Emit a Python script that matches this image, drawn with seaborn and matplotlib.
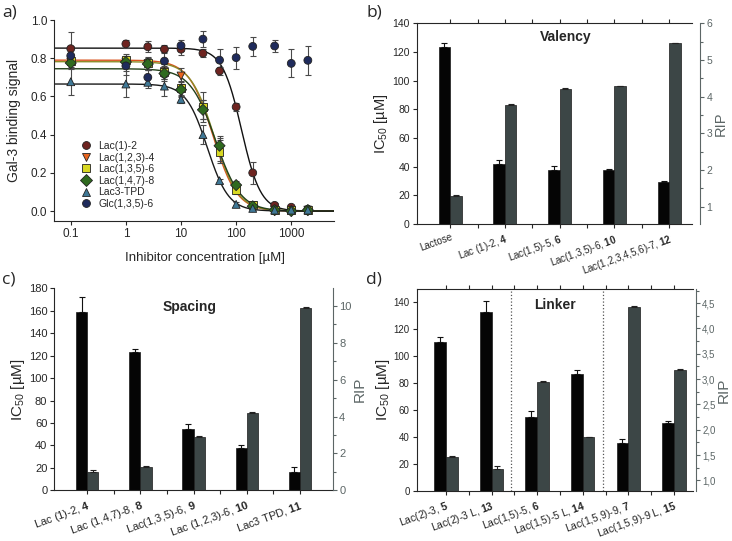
import numpy as np
import pandas as pd
import matplotlib
matplotlib.use("Agg")
import matplotlib.pyplot as plt
import seaborn as sns
from matplotlib.ticker import FixedLocator, MultipleLocator, FuncFormatter, NullLocator

sns.set_theme(style="ticks")
plt.rcParams["font.family"] = ["Liberation Sans", "DejaVu Sans"]
plt.rcParams["mathtext.fontset"] = "custom"
plt.rcParams["mathtext.rm"] = "Liberation Sans"
plt.rcParams["mathtext.bf"] = "Liberation Sans:bold"
plt.rcParams["axes.linewidth"] = 0.8

# ---------------- Panel a data ----------------
conc = [0.1, 1, 2.5, 5, 10, 25, 50, 100, 200, 500, 1000, 2000]
a_names = ["Lac(1)-2", "Lac(1,2,3)-4", "Lac(1,3,5)-6", "Lac(1,4,7)-8", "Lac3-TPD", "Glc(1,3,5)-6"]
sig_lac1_2 = [0.85, 0.875, 0.86, 0.847, 0.847, 0.826, 0.733, 0.545, 0.20, 0.03, 0.02, 0.01]
sig_lac123_4 = [0.78, 0.78, 0.77, 0.73, 0.707, 0.53, 0.32, 0.12, 0.03, 0.005, 0.0, 0.005]
sig_lac135_6 = [0.785, 0.79, 0.776, 0.73, 0.642, 0.545, 0.31, 0.11, 0.031, 0.005, 0.005, 0.005]
sig_lac147_8 = [0.775, 0.78, 0.77, 0.72, 0.635, 0.53, 0.342, 0.136, 0.025, 0.005, 0.0, 0.005]
sig_lac3tpd = [0.677, 0.665, 0.674, 0.654, 0.585, 0.40, 0.159, 0.035, 0.014, 0.005, 0.005, 0.005]
sig_glc135_6 = [0.813, 0.76, 0.70, 0.785, 0.866, 0.90, 0.79, 0.803, 0.862, 0.864, 0.773, 0.789]
err_lac1_2 = [0.085, 0.02, 0.03, 0.02, 0.03, 0.02, 0.02, 0.02, 0.057, 0.01, 0.01, 0.01]
err_lac123_4 = [0.03, 0.03, 0.03, 0.04, 0.04, 0.05, 0.06, 0.02, 0.01, 0.005, 0.005, 0.005]
err_lac135_6 = [0.03, 0.03, 0.03, 0.04, 0.04, 0.08, 0.06, 0.02, 0.01, 0.005, 0.005, 0.005]
err_lac147_8 = [0.03, 0.03, 0.03, 0.04, 0.04, 0.05, 0.05, 0.02, 0.01, 0.005, 0.005, 0.005]
err_lac3tpd = [0.07, 0.07, 0.03, 0.05, 0.02, 0.05, 0.01, 0.01, 0.01, 0.005, 0.005, 0.005]
err_glc135_6 = [0.05, 0.05, 0.04, 0.05, 0.03, 0.04, 0.058, 0.057, 0.048, 0.033, 0.073, 0.076]
a_signals = [sig_lac1_2, sig_lac123_4, sig_lac135_6, sig_lac147_8, sig_lac3tpd, sig_glc135_6]
a_errors = [err_lac1_2, err_lac123_4, err_lac135_6, err_lac147_8, err_lac3tpd, err_glc135_6]
a_markers = ["o", "v", "s", "D", "^", "o"]
a_colors = ["#6e2420", "#e8641e", "#d8d822", "#2f6a1f", "#3f7896", "#1f2b5c"]

# logistic fit parameters (top, IC50, Hill) for the fitted curves
fit_names = ["Lac(1)-2", "Lac(1,2,3)-4", "Lac(1,3,5)-6", "Lac(1,4,7)-8", "Lac3-TPD"]
fit_top = [0.853, 0.79, 0.782, 0.745, 0.665]
fit_ic50 = [125, 38, 40, 42, 30]
fit_hill = [2.5, 2.0, 2.0, 1.9, 2.25]
fit_colors = ["#111111", "#d9531e", "#8c8c28", "#23401a", "#1a1a1a"]

# ---------------- Panel b data ----------------
b_names = ["Lactose", "Lac (1)-2,", "Lac(1,5)-5,", "Lac(1,3,5)-6,", "Lac(1,2,3,4,5,6)-7,"]
b_nums = ["", "4", "6", "10", "12"]
b_ic50 = [123.5, 42.1, 37.9, 37.4, 29.5]
b_ic50_err = [2.5, 2.8, 2.5, 0.6, 0.4]
b_rip = [1.29, 3.77, 4.22, 4.28, 5.45]
b_rip_err = [0.02, 0.02, 0.02, 0.02, 0.02]

# ---------------- Panel c data ----------------
c_names = ["Lac (1)-2,", "Lac (1,4,7)-8,", "Lac(1,3,5)-6,", "Lac (1,2,3)-6,", "Lac3 TPD,"]
c_nums = ["4", "8", "9", "10", "11"]
c_ic50 = [158.9, 123.3, 54.4, 37.4, 16.0]
c_ic50_err = [13.0, 2.7, 4.5, 3.0, 4.5]
c_rip = [0.99, 1.27, 2.91, 4.21, 9.89]
c_rip_err = [0.1, 0.03, 0.05, 0.03, 0.03]

# ---------------- Panel d data ----------------
d_names = ["Lac(2)-3,", "Lac(2)-3 L,", "Lac(1,5)-5,", "Lac(1,5)-5 L,", "Lac(1,5,9)-9,", "Lac(1,5,9)-9 L,"]
d_nums = ["5", "13", "6", "14", "7", "15"]
d_ic50 = [110.7, 132.7, 54.7, 87.1, 35.9, 50.2]
d_ic50_err = [4.0, 8.2, 4.5, 3.0, 2.5, 1.5]
d_rip = [1.46, 1.23, 2.94, 1.85, 4.43, 3.19]
d_rip_err = [0.03, 0.05, 0.03, 0.01, 0.01, 0.01]
d_separators = [1.43, 3.44]

BLACK = "#050505"
GRAY = "#3c4646"
AXGRAY = "#5c6666"

fig = plt.figure(figsize=(7.32, 5.41), dpi=100)

# ====================== Panel a ======================
axa = fig.add_axes([0.074, 0.5915, 0.3825, 0.3715])
xx = np.geomspace(0.05, 6000, 400)
curve_rows = []
for n, t, ic, h in zip(fit_names, fit_top, fit_ic50, fit_hill):
    for xv in xx:
        curve_rows.append({"conc": xv, "signal": t / (1 + (xv / ic) ** h), "series": n})
curves = pd.DataFrame(curve_rows)
sns.lineplot(data=curves, x="conc", y="signal", hue="series", hue_order=fit_names,
             palette=dict(zip(fit_names, fit_colors)), linewidth=1.0, legend=False,
             ax=axa, zorder=2)

pts = pd.DataFrame({
    "conc": conc * len(a_names),
    "signal": sum(a_signals, []),
    "err": sum(a_errors, []),
    "series": [n for n in a_names for _ in conc],
})
for n, s, e in zip(a_names, a_signals, a_errors):
    axa.errorbar(conc, s, yerr=e, fmt="none", ecolor="#4a4a4a", elinewidth=0.8,
                 capsize=2.5, capthick=0.8, zorder=3)
sns.scatterplot(data=pts, x="conc", y="signal", hue="series", style="series",
                hue_order=a_names, style_order=a_names,
                palette=dict(zip(a_names, a_colors)),
                markers=dict(zip(a_names, a_markers)), s=32, edgecolor="#222222",
                linewidth=0.6, ax=axa, zorder=4)
axa.set_xscale("log")
axa.set_xlim(0.05, 6000)
axa.set_ylim(-0.052, 1.0)
axa.set_xticks([0.1, 1, 10, 100, 1000])
axa.set_xticklabels(["0.1", "1", "10", "100", "1000"])
axa.xaxis.set_minor_locator(NullLocator())
axa.set_yticks([0.0, 0.2, 0.4, 0.6, 0.8, 1.0])
axa.set_yticklabels(["0.0", "0.2", "0.4", "0.6", "0.8", "1.0"])
axa.tick_params(labelsize=8.5, length=3, width=0.8, pad=2)
axa.set_xlabel("Inhibitor concentration [µM]", fontsize=9.5)
axa.xaxis.set_label_coords(0.54, -0.155)
axa.set_ylabel("Gal-3 binding signal", fontsize=10, labelpad=7)
sns.despine(ax=axa)
handles, labels = axa.get_legend_handles_labels()
axa.legend(handles, labels, loc="lower left", bbox_to_anchor=(0.06, 0.04), frameon=False,
           fontsize=7.5, handletextpad=0.2, labelspacing=0.15, borderaxespad=0, title=None)


def bar_panel(pos, names, nums, ic50, ic50_err, rip, rip_err, ylim_l, ylim_r, xlim,
              width, title, title_xy, top_spine, right_offset, rip_major, rip_minor,
              left_major, xt_size, yt_size, lab_size, comma=False):
    ax = fig.add_axes(pos)
    ax2 = ax.twinx()
    n = len(names)
    df = pd.DataFrame({
        "compound": names * 2,
        "measure": ["IC50"] * n + ["RIP"] * n,
        "value": list(ic50) + list(rip),
    })
    pal = {"IC50": BLACK, "RIP": GRAY}
    sns.barplot(data=df[df.measure == "IC50"], x="compound", y="value", hue="measure",
                hue_order=["IC50", "RIP"], order=names, palette=pal, dodge=True,
                width=width, errorbar=None, saturation=1, legend=False,
                edgecolor="#1a1a1a", linewidth=0.5, ax=ax)
    sns.barplot(data=df[df.measure == "RIP"], x="compound", y="value", hue="measure",
                hue_order=["IC50", "RIP"], order=names, palette=pal, dodge=True,
                width=width, errorbar=None, saturation=1, legend=False,
                edgecolor="#1a1a1a", linewidth=0.5, ax=ax2)
    # error bars (upper only) on the drawn bars
    for a_, errs, col in ((ax, ic50_err, "#111111"), (ax2, rip_err, "#222222")):
        cont = [c for c in a_.containers if len(c) > 0][0]
        xc = [p.get_x() + p.get_width() / 2 for p in cont.patches]
        hc = [p.get_height() for p in cont.patches]
        a_.errorbar(xc, hc, yerr=[np.zeros(len(errs)), errs], fmt="none", ecolor=col,
                    elinewidth=0.8, capsize=2.5, capthick=0.8)
    ax.set_xlim(*xlim)
    ax.set_ylim(*ylim_l)
    ax2.set_ylim(*ylim_r)
    ax.set_xticks(range(n))
    ax.set_xticklabels([f"{a} $\\mathbf{{{b}}}$" if b else a for a, b in zip(names, nums)],
                       rotation=20, ha="right", rotation_mode="anchor", fontsize=xt_size)
    ax.xaxis.set_minor_locator(FixedLocator(np.arange(n - 1) + 0.5))
    ax.yaxis.set_major_locator(MultipleLocator(left_major))
    ax.tick_params(axis="y", labelsize=yt_size, length=3, width=0.8, pad=2)
    ax.tick_params(axis="x", which="both", length=3, width=0.8, pad=3, top=top_spine)
    ax.set_xlabel("")
    ax.set_ylabel("IC$_{50}$ [µM]", fontsize=lab_size, labelpad=1.5)
    ax.spines["right"].set_visible(False)
    ax.spines["top"].set_visible(top_spine)
    for s in ("top", "left", "bottom"):
        ax2.spines[s].set_visible(False)
    ax2.spines["right"].set_color(AXGRAY)
    ax2.spines["right"].set_position(("outward", right_offset))
    ax2.yaxis.set_major_locator(MultipleLocator(rip_major))
    ax2.yaxis.set_minor_locator(MultipleLocator(rip_minor))
    ax2.tick_params(axis="y", which="both", colors=AXGRAY, labelcolor=AXGRAY,
                    labelsize=yt_size, width=0.8, pad=1.5)
    ax2.tick_params(axis="y", which="major", length=3)
    ax2.tick_params(axis="y", which="minor", length=2)
    if comma:
        ax2.yaxis.set_major_formatter(FuncFormatter(lambda v, p: f"{v:.1f}".replace(".", ",")))
    else:
        ax2.yaxis.set_major_formatter(FuncFormatter(lambda v, p: f"{v:.0f}"))
    ax2.set_ylabel("RIP", fontsize=lab_size, color=AXGRAY, labelpad=1)
    ax2.set_xlabel("")
    ax.text(title_xy[0], title_xy[1], title, transform=ax.transAxes, ha="center",
            va="center", fontsize=10, fontweight="bold")
    return ax, ax2


axb, axb2 = bar_panel([0.5693, 0.586, 0.3757, 0.371], b_names, b_nums, b_ic50, b_ic50_err,
                      b_rip, b_rip_err, (0, 140), (0.53, 6), (-0.61, 4.41), 0.42,
                      "Valency", (0.54, 0.93), True, 6, 1, 0.5, 20, 7, 7.5, 10.5)
axc, axc2 = bar_panel([0.0742, 0.0937, 0.3807, 0.3734], c_names, c_nums, c_ic50, c_ic50_err,
                      c_rip, c_rip_err, (0, 180), (0, 10.96), (-0.62, 4.62), 0.42,
                      "Spacing", (0.487, 0.906), False, 0, 2, 1, 20, 8, 8, 11)
axd, axd2 = bar_panel([0.5693, 0.0924, 0.3775, 0.3734], d_names, d_nums, d_ic50, d_ic50_err,
                      d_rip, d_rip_err, (0, 150), (0.79, 4.78), (-0.64, 5.42), 0.51,
                      "Linker", (0.50, 0.92), True, 2, 0.5, 0.25, 20, 7.5, 7, 11, comma=True)
for sx in d_separators:
    axd.axvline(sx, color="#555555", linestyle=":", linewidth=0.9)

# panel letters
for lbl, x, y in (("a)", 0.003, 0.977), ("b)", 0.500, 0.977), ("c)", 0.003, 0.483), ("d)", 0.500, 0.483)):
    fig.text(x, y, lbl, fontsize=12.5, ha="left", va="center", family=["Open Sans", "DejaVu Sans"])

fig.savefig("out.png", dpi=100)
